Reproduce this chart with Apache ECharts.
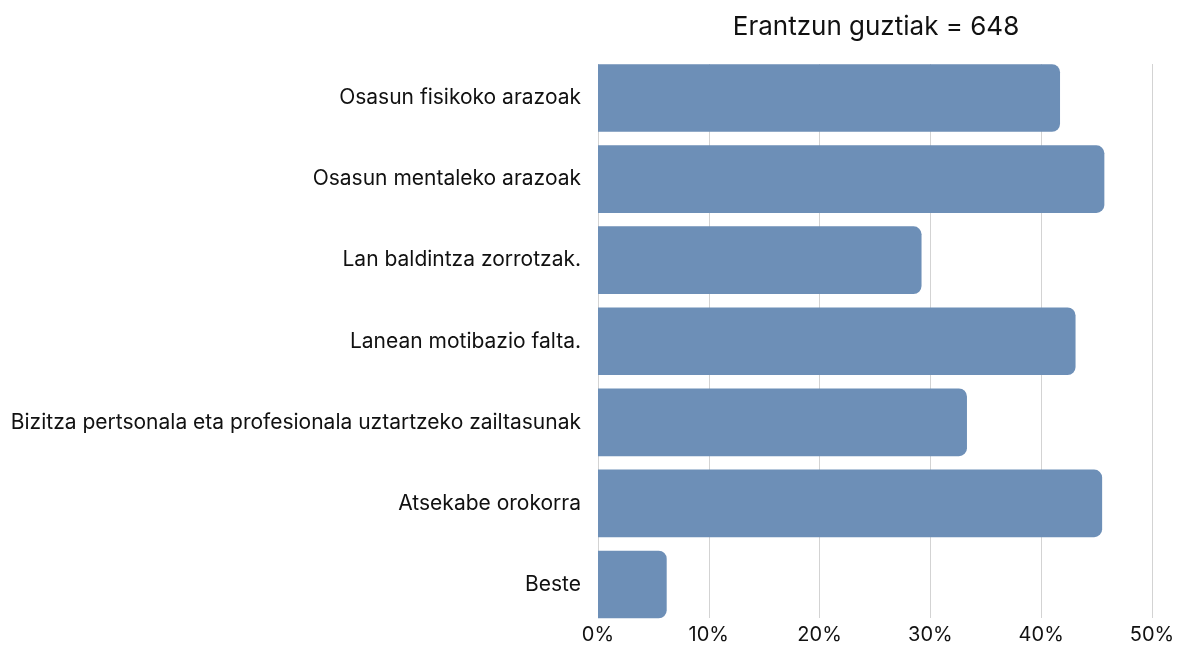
<!DOCTYPE html>
<html>
<head>
<meta charset="utf-8">
<script src="https://cdn.jsdelivr.net/npm/echarts@6/dist/echarts.min.js"></script>
<style>
  html, body { margin: 0; padding: 0; background: #fff; }
  #chart { width: 1178px; height: 645px; }
</style>
</head>
<body>
<div id="chart"></div>
<script>
var categories = [
  'Osasun fisikoko arazoak',
  'Osasun mentaleko arazoak',
  'Lan baldintza zorrotzak.',
  'Lanean motibazio falta.',
  'Bizitza pertsonala eta profesionala uztartzeko zailtasunak',
  'Atsekabe orokorra',
  'Beste'
];
var values = [41.7, 45.7, 29.2, 43.1, 33.3, 45.5, 6.2];
var titleText = 'Erantzun guztiak = 648';

var chartDom = document.getElementById('chart');
var myChart = echarts.init(chartDom);
var font = 'Inter';

var option = {
  animation: false,
  title: {
    text: titleText,
    left: 871,
    textAlign: 'center',
    top: 9,
    textStyle: { color: '#111', fontFamily: font, fontSize: 26, fontWeight: 'normal' }
  },
  grid: [
    // grid for the vertical grid lines and tick labels
    { left: 598, right: 26, top: 64, bottom: 27 },
    // grid for the bars
    { left: 598, right: 26, top: 57.5, height: 567.5 }
  ],
  xAxis: [
    {
      gridIndex: 0,
      type: 'value',
      min: 0,
      max: 50,
      interval: 10,
      axisLine: { show: false },
      axisTick: { show: false },
      splitLine: { show: true, lineStyle: { color: '#d3d3d3', width: 1 } },
      axisLabel: {
        formatter: '{value}%',
        color: '#111',
        fontFamily: font,
        fontSize: 20,
        margin: 7
      }
    },
    {
      gridIndex: 1,
      type: 'value',
      min: 0,
      max: 50,
      show: false
    }
  ],
  yAxis: [
    {
      gridIndex: 0,
      type: 'value',
      show: false
    },
    {
      gridIndex: 1,
      type: 'category',
      inverse: true,
      data: categories,
      axisLine: { show: false },
      axisTick: { show: false },
      axisLabel: {
        color: '#111',
        fontFamily: font,
        fontSize: 21,
        margin: 17
      }
    }
  ],
  series: [
    {
      type: 'bar',
      xAxisIndex: 1,
      yAxisIndex: 1,
      data: values,
      barCategoryGap: '16.6%',
      itemStyle: { color: '#6d8fb7', borderRadius: [0, 8, 8, 0] }
    }
  ]
};

myChart.setOption(option);

window.onresize = () => {
  myChart.resize();
}
</script>
</body>
</html>
